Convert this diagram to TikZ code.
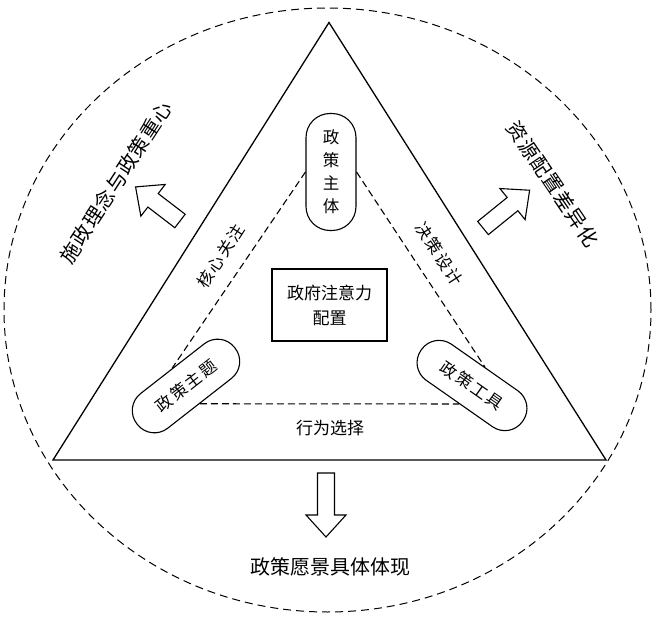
\documentclass[tikz,border=0pt]{standalone}
\usepackage{fontspec}
\newfontfamily\cjk{Noto Sans CJK SC}
\newfontfamily\cjkls{Noto Sans CJK SC}[LetterSpace=12]
\newfontfamily\cjkbig{Noto Sans CJK SC}[LetterSpace=5]
\usetikzlibrary{shapes.geometric}
\begin{document}
\begin{tikzpicture}[x=1pt,y=1pt,
  txt/.style={font=\cjkls\fontsize{16.5}{20}\selectfont, inner sep=0pt},
  bigtxt/.style={font=\cjkbig\fontsize{20}{24}\selectfont, inner sep=0pt},
  capsule/.style={draw, line width=1.1pt, rounded corners=21.5pt, minimum width=124pt,
    minimum height=44pt, inner sep=0pt, font=\cjkls\fontsize{16.5}{20}\selectfont},
  link/.style={line width=1.1pt, dash pattern=on 7pt off 4pt},
  pics/harrow/.style={code={
    \draw[line width=1.1pt, fill=white] (0,-8.5) -- (#1-22,-8.5) -- (#1-22,-20) -- (#1,0)
      -- (#1-22,20) -- (#1-22,8.5) -- (0,8.5) -- cycle;}}
]
\useasboundingbox (0,0) rectangle (654,-618);
% outer dashed ellipse
\draw[line width=1pt, dash pattern=on 8pt off 5pt] (327.5,-310) ellipse [x radius=323.5, y radius=302];
% triangle
\coordinate (A) at (329,-22.5);
\coordinate (B) at (53,-460);
\coordinate (C) at (606,-460);
\draw[line width=1.3pt] (A) -- (B) -- (C) -- cycle;
% nodes
\node[capsule, minimum width=50pt, minimum height=117pt, rounded corners=24pt, align=center,
  font=\cjk\fontsize{16.5}{23}\selectfont] (zt) at (331,-172) {政\\策\\主\\体};
\node[draw, line width=1.1pt, minimum width=115pt, minimum height=72pt, align=center,
  font=\cjk\fontsize{17}{25}\selectfont] (box) at (329.5,-305) {政府注意力\\配置};
\node[capsule, rotate=38] (ztm) at (186,-386) {政策主题};
\node[capsule, rotate=-35] (gj) at (472,-385.5) {政策工具};
% dashed links
\draw[link] (zt.west) -- (ztm.north);
\draw[link] (zt.east) -- (gj.north);
\draw[link] (ztm.south) -- (gj.south);
% labels
\node[txt, rotate=57] (l1) at (221,-256) {核心关注};
\node[txt, rotate=-57] (l2) at (439,-254) {决策设计};
\node[font=\cjk\fontsize{17}{20}\selectfont, inner sep=0pt] (l3) at (330,-428) {行为选择};
\node[bigtxt, rotate=57] (t1) at (116,-182) {施政理念与政策重心};
\node[bigtxt, rotate=-56] (t2) at (553,-184) {资源配置差异化};
\node[font=\cjk\fontsize{20}{24}\selectfont, inner sep=0pt] (t3) at (330,-567) {政策愿景具体体现};
% hollow arrows
\pic[rotate=142.5] at (180,-221) {harrow=56};
\pic[rotate=39] at (483,-228) {harrow=60};
\pic[rotate=-90] at (326,-473) {harrow=64};
\end{tikzpicture}
\end{document}
